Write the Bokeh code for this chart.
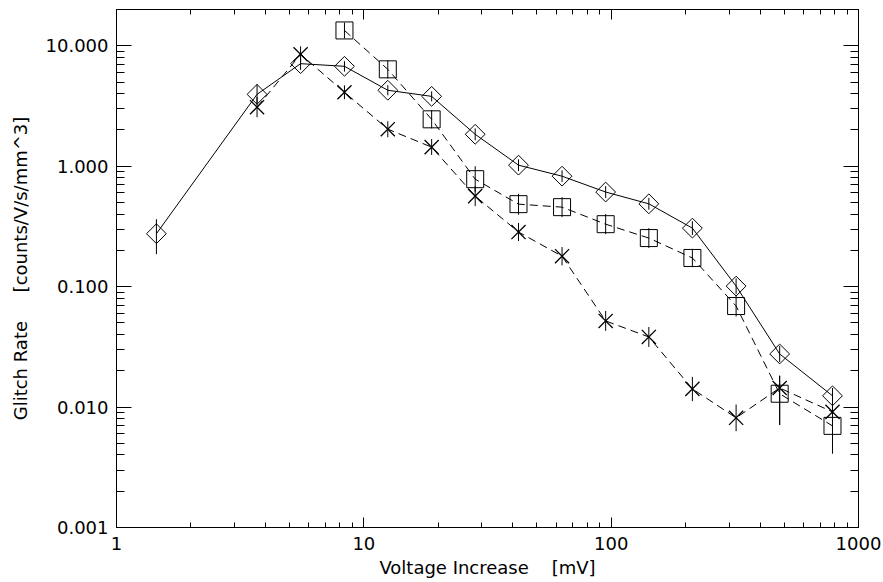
import math
from bokeh.plotting import figure
from bokeh.models import Range1d, LogAxis, LogTicker, PrintfTickFormatter
from bokeh.embed import file_html
from bokeh.resources import INLINE

# ---- data ----
volt_diamond = [1.45, 3.7, 5.55, 8.35, 12.5, 18.8, 28.2, 42.2, 63.3, 95, 142, 213, 320, 480, 785]
rate_diamond = [0.275, 3.95, 7.1, 6.75, 4.27, 3.8, 1.84, 1.02, 0.826, 0.61, 0.487, 0.306, 0.101, 0.0276, 0.0124]
lo_diamond = [0.186, 3.26, 6.3, 6.1, 3.88, 3.45, 1.64, 0.91, 0.74, 0.545, 0.435, 0.268, 0.087, 0.0237, 0.0106]
hi_diamond = [0.363, 4.8, 8.0, 7.45, 4.7, 4.18, 2.06, 1.14, 0.925, 0.683, 0.545, 0.349, 0.117, 0.0322, 0.0144]

volt_square = [8.35, 12.5, 18.8, 28.2, 42.2, 63.3, 95, 142, 213, 320, 480, 785]
rate_square = [13.4, 6.37, 2.45, 0.78, 0.484, 0.457, 0.33, 0.253, 0.173, 0.069, 0.0129, 0.00698]
lo_square = [11.5, 5.35, 2.06, 0.61, 0.395, 0.378, 0.273, 0.209, 0.145, 0.0565, 0.0071, 0.0041]
hi_square = [15.6, 7.58, 2.92, 1.0, 0.59, 0.553, 0.40, 0.306, 0.206, 0.0845, 0.0182, 0.0110]

volt_cross = [3.7, 5.55, 8.35, 12.5, 18.8, 28.2, 42.2, 63.3, 95, 142, 213, 320, 480, 785]
rate_cross = [3.09, 8.49, 4.11, 2.03, 1.44, 0.564, 0.284, 0.179, 0.0519, 0.0382, 0.01416, 0.00814, 0.0144, 0.00912]
lo_cross = [2.55, 7.29, 3.6, 1.74, 1.24, 0.466, 0.239, 0.150, 0.0429, 0.0316, 0.0112, 0.0063, 0.0071, 0.0075]
hi_cross = [3.74, 9.89, 4.69, 2.36, 1.68, 0.682, 0.338, 0.213, 0.0628, 0.0462, 0.0178, 0.0105, 0.0182, 0.011]

x_label = "Voltage Increase\u00a0\u00a0\u00a0\u00a0[mV]"
y_label = "Glitch Rate\u00a0\u00a0\u00a0\u00a0\u00a0[counts/V/s/mm^3]"

FONT = "DejaVu Sans"
FS = "18px"

p = figure(width=883, height=582, x_axis_type="log", y_axis_type="log",
           x_range=Range1d(1, 1000), y_range=Range1d(0.001, 20),
           output_backend="svg", toolbar_location=None,
           min_border_left=116, min_border_right=25, min_border_top=9, min_border_bottom=55)
p.toolbar.logo = None
p.grid.visible = False
p.outline_line_color = "black"
p.background_fill_color = "white"
p.border_fill_color = "white"


def style_axis(ax, major, minor, labels=True):
    ax.major_tick_in = major
    ax.major_tick_out = 0
    ax.minor_tick_in = minor
    ax.minor_tick_out = 0
    ax.axis_line_color = "black"
    ax.major_tick_line_color = "black"
    ax.minor_tick_line_color = "black"
    ax.major_label_text_font = FONT
    ax.major_label_text_color = "black"
    ax.axis_label_text_font = FONT
    ax.axis_label_text_font_size = FS
    ax.axis_label_text_font_style = "normal"
    ax.axis_label_text_color = "black"
    if labels:
        ax.major_label_text_font_size = FS
    else:
        ax.major_label_text_font_size = "1px"
        ax.major_label_text_alpha = 0
        ax.major_label_standoff = 0


xt = LogTicker(num_minor_ticks=10)
yt = LogTicker(num_minor_ticks=10)

xa = p.xaxis[0]
xa.ticker = xt
xa.formatter = PrintfTickFormatter(format="%d")
xa.axis_label = x_label
xa.major_label_standoff = 9
xa.axis_label_standoff = 4
style_axis(xa, 10, 5)

ya = p.yaxis[0]
ya.ticker = yt
ya.formatter = PrintfTickFormatter(format="%.3f")
ya.axis_label = y_label
ya.major_label_standoff = 8
ya.axis_label_standoff = 12
style_axis(ya, 15, 8)

top = LogAxis(ticker=LogTicker(num_minor_ticks=10))
style_axis(top, 10, 5, labels=False)
p.add_layout(top, "above")
right = LogAxis(ticker=LogTicker(num_minor_ticks=10))
style_axis(right, 15, 8, labels=False)
p.add_layout(right, "right")

# ---- series ----
DASH = "8 5"

# diamonds, solid
p.line(volt_diamond, rate_diamond, line_color="black", line_width=1)
p.segment(x0=volt_diamond, y0=lo_diamond, x1=volt_diamond, y1=hi_diamond, line_color="black", line_width=1)
p.scatter(volt_diamond, rate_diamond, marker="square", angle=math.pi / 4, size=14,
          fill_color=None, line_color="black", line_width=1)

# squares, dashed
p.line(volt_square, rate_square, line_color="black", line_width=1, line_dash=DASH)
p.segment(x0=volt_square, y0=lo_square, x1=volt_square, y1=hi_square, line_color="black", line_width=1)
p.scatter(volt_square, rate_square, marker="square", size=17,
          fill_color=None, line_color="black", line_width=1)

# crosses, dashed
p.line(volt_cross, rate_cross, line_color="black", line_width=1, line_dash=DASH)
p.segment(x0=volt_cross, y0=lo_cross, x1=volt_cross, y1=hi_cross, line_color="black", line_width=1)
p.scatter(volt_cross, rate_cross, marker="x", size=20,
          fill_color=None, line_color="black", line_width=1.3)

open("out.html", "w").write(file_html(p, INLINE))
